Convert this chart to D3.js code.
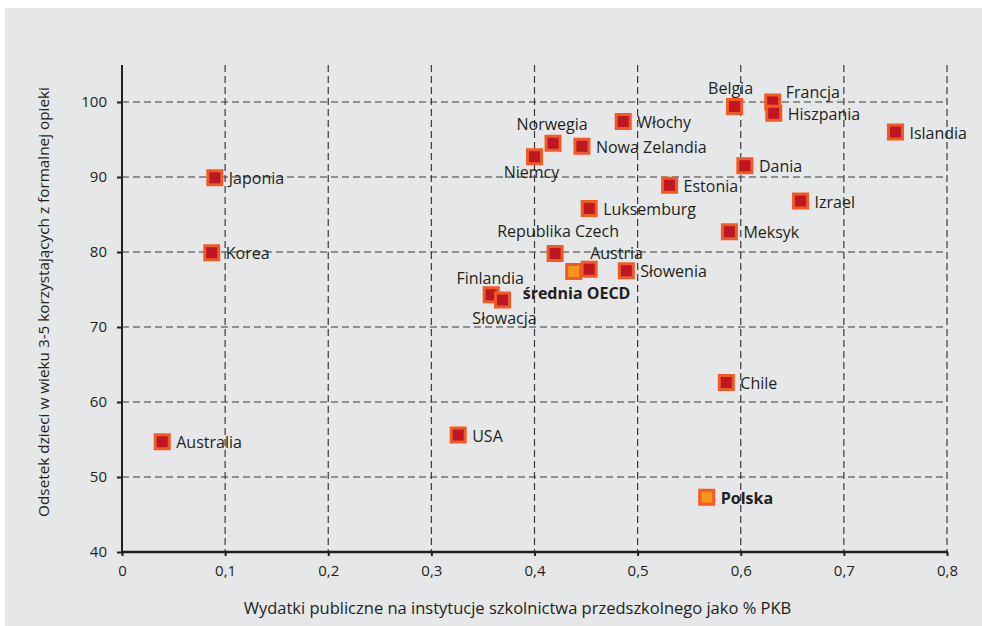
<!DOCTYPE html>
<html>
<head>
<meta charset="UTF-8">
<title>Wydatki publiczne a odsetek dzieci w opiece</title>
<script src="https://cdn.jsdelivr.net/npm/d3@7"></script>
<style>
  body { margin: 0; background: #fff; }
  svg text { font-family: "Open Sans", "DejaVu Sans", sans-serif; fill: #231f20; }
</style>
</head>
<body>
<script>
// dane: kraje, wydatki (% PKB), odsetek dzieci 3-5 lat
var countries = ["Australia", "Korea", "Japonia", "USA", "Finlandia", "Słowacja", "Niemcy",
  "Norwegia", "Nowa Zelandia", "Włochy", "Republika Czech", "średnia OECD", "Austria",
  "Słowenia", "Luksemburg", "Estonia", "Belgia", "Francja", "Hiszpania", "Dania",
  "Meksyk", "Izrael", "Islandia", "Chile", "Polska"];
var spending = [0.039, 0.087, 0.090, 0.326, 0.358, 0.369, 0.400,
  0.418, 0.446, 0.486, 0.420, 0.438, 0.453,
  0.489, 0.453, 0.531, 0.594, 0.631, 0.632, 0.604,
  0.589, 0.658, 0.750, 0.586, 0.567];
var enrolment = [54.7, 79.9, 89.9, 55.6, 74.3, 73.6, 92.7,
  94.5, 94.1, 97.4, 79.8, 77.4, 77.7,
  77.5, 85.8, 88.9, 99.4, 100.0, 98.5, 91.5,
  82.7, 86.8, 96.0, 62.6, 47.3];
var highlighted = ["średnia OECD", "Polska"];

var xTicks = [0, 0.1, 0.2, 0.3, 0.4, 0.5, 0.6, 0.7, 0.8];
var yTicks = [40, 50, 60, 70, 80, 90, 100];

// rozmieszczenie etykiet (dx, dy od środka znacznika, kotwica)
var labelPos = {
  "Belgia": [-4, -18, "middle"],
  "Francja": [13, -10, "start"],
  "Niemcy": [-3, 16, "middle"],
  "Norwegia": [-1, -19, "middle"],
  "Republika Czech": [3, -22, "middle"],
  "Austria": [1, -16, "start"],
  "Finlandia": [-1, -16, "middle"],
  "Słowacja": [2, 18, "middle"],
  "średnia OECD": [-51, 22, "start"]
};

var W = 982, H = 626;
var svg = d3.select("body").append("svg")
  .attr("width", W).attr("height", H);

svg.append("rect")
  .attr("x", 5).attr("y", 8)
  .attr("width", W - 5).attr("height", H - 8)
  .attr("fill", "#e6e7e8");

var x = d3.scaleLinear().domain([0, 0.8]).range([122, 947]);
var y = d3.scaleLinear().domain([40, 100]).range([552, 102]);
var yTop = 65;
var fmt = function (d) { return d === 0 ? "0" : d3.format(".1f")(d).replace(".", ","); };

// siatka
svg.append("g").selectAll("line").data(xTicks.slice(1)).enter().append("line")
  .attr("x1", function (d) { return x(d); }).attr("x2", function (d) { return x(d); })
  .attr("y1", yTop).attr("y2", y(40))
  .attr("stroke", "#3a3a3a").attr("stroke-width", 1.2).attr("stroke-dasharray", "7,4");
svg.append("g").selectAll("line").data(yTicks.slice(1)).enter().append("line")
  .attr("x1", x(0)).attr("x2", x(0.8))
  .attr("y1", function (d) { return y(d); }).attr("y2", function (d) { return y(d); })
  .attr("stroke", "#3a3a3a").attr("stroke-width", 1.2).attr("stroke-dasharray", "7,4");

// osie
var xAxis = svg.append("g").attr("transform", "translate(0," + y(40) + ")")
  .call(d3.axisBottom(x).tickValues(xTicks).tickFormat(fmt).tickSize(4).tickPadding(9));
var yAxis = svg.append("g").attr("transform", "translate(" + x(0) + ",0)")
  .call(d3.axisLeft(y).tickValues(yTicks).tickSize(5).tickPadding(10));
[xAxis, yAxis].forEach(function (g) {
  g.select(".domain").remove();
  g.selectAll("line").attr("stroke", "#231f20").attr("stroke-width", 2);
  g.selectAll("text").style("font-size", "15px").attr("fill", "#231f20");
});
svg.append("line").attr("x1", x(0)).attr("x2", x(0)).attr("y1", yTop).attr("y2", y(40) + 1)
  .attr("stroke", "#231f20").attr("stroke-width", 2);
svg.append("line").attr("x1", x(0) - 1).attr("x2", x(0.8) + 1).attr("y1", y(40)).attr("y2", y(40))
  .attr("stroke", "#231f20").attr("stroke-width", 2.5);

// tytuły osi
svg.append("text")
  .attr("x", (x(0) + x(0.8)) / 2 - 17).attr("y", 614)
  .attr("text-anchor", "middle").style("font-size", "16.5px")
  .text("Wydatki publiczne na instytucje szkolnictwa przedszkolnego jako % PKB");
svg.append("text")
  .attr("transform", "translate(49," + 302 + ") rotate(-90)")
  .attr("text-anchor", "middle").style("font-size", "15.3px")
  .text("Odsetek dzieci w wieku 3-5 korzystających z formalnej opieki");

// punkty
var pts = countries.map(function (c, i) { return { name: c, sx: spending[i], sy: enrolment[i] }; });

var g = svg.append("g");
g.selectAll("rect").data(pts).enter().append("rect")
  .attr("x", function (d) { return x(d.sx) - 7; })
  .attr("y", function (d) { return y(d.sy) - 7; })
  .attr("width", 14).attr("height", 14)
  .attr("fill", function (d) { return highlighted.indexOf(d.name) >= 0 ? "#f7941d" : "#be1622"; })
  .attr("stroke", "#f15a24").attr("stroke-width", 3);

g.selectAll("text").data(pts).enter().append("text")
  .attr("x", function (d) { var p = labelPos[d.name]; return x(d.sx) + (p ? p[0] : 14); })
  .attr("y", function (d) { var p = labelPos[d.name]; return y(d.sy) + (p ? p[1] : 1); })
  .attr("dy", "0.35em")
  .attr("text-anchor", function (d) { var p = labelPos[d.name]; return p ? p[2] : "start"; })
  .style("font-size", "16px")
  .style("font-weight", function (d) { return highlighted.indexOf(d.name) >= 0 ? "bold" : "normal"; })
  .text(function (d) { return d.name; });
</script>
</body>
</html>
